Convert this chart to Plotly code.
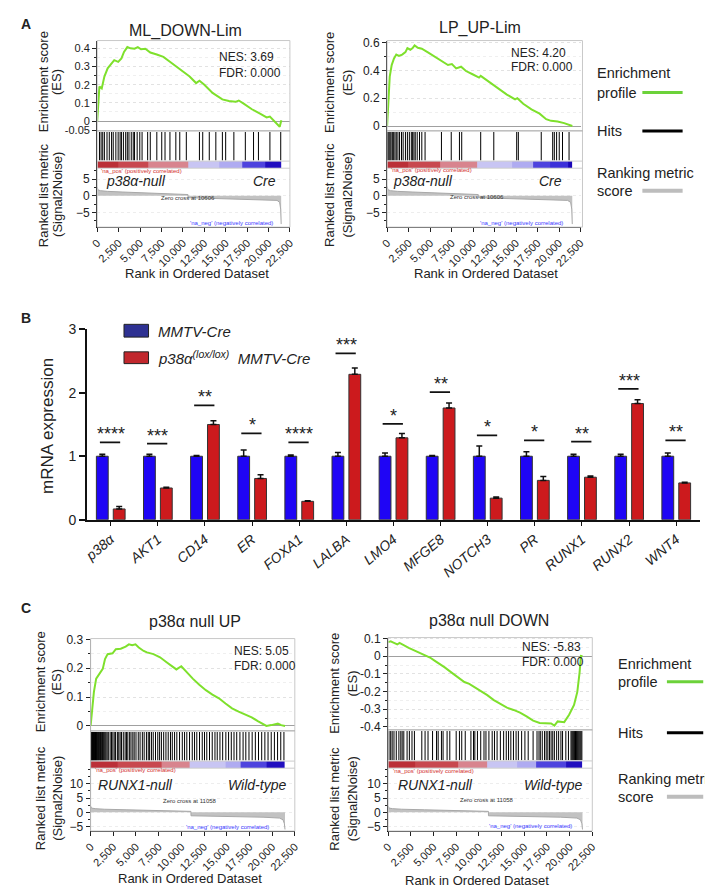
import plotly.graph_objects as go

W, H = 713, 887
FONT = "Liberation Sans, Arial, sans-serif"


def fx(px):
    return px / W


def fy(py):
    return 1 - py / H


# ------------------------------------------------------------------ DATA
rank_ticks = [0, 2500, 5000, 7500, 10000, 12500, 15000, 17500, 20000, 22500]
rank_ticktext = ["0", "2,500", "5,000", "7,500", "10,000", "12,500", "15,000", "17,500", "20,000", "22,500"]

# Panel A left : ML_DOWN-Lim
al_es_rank = [0, 260, 530, 840, 1220, 1600, 1990, 2450, 2830, 3130, 3520, 3900, 4360, 4740, 5120, 5620, 6200,
              6960, 7730, 8490, 9260, 10020, 10790, 11550, 11940, 12510, 13470, 14610, 15380, 16140, 16530,
              17100, 18060, 19010, 19780, 20160, 20740, 21310, 21500]
al_es = [0, 0.19, 0.18, 0.245, 0.29, 0.31, 0.335, 0.326, 0.345, 0.38, 0.407, 0.40, 0.398, 0.407, 0.395, 0.398,
         0.377, 0.366, 0.353, 0.326, 0.299, 0.272, 0.245, 0.209, 0.222, 0.20, 0.155, 0.119, 0.11, 0.106, 0.113,
         0.096, 0.065, 0.041, 0.02, 0.025, -0.002, -0.031, 0.005]
al_hits = [265, 456, 647, 839, 1145, 1413, 1681, 1872, 2178, 2446, 2676, 2829, 3059, 3326, 3518, 3709, 3977,
           4207, 4360, 4666, 4972, 5240, 5891, 6197, 6962, 7536, 7919, 8493, 9182, 9641, 10406, 11937, 12320,
           13085, 13851, 14616, 14999, 15956, 17295, 18252, 18826, 20165, 21428]
al_bar_edges = [0, 2500, 6000, 10600, 14200, 16900, 19600, 21430]
al_bar_levels = [1.0, 0.85, 0.5, -0.2, -0.3, -0.65, -0.95]
al_rk_x = [0, 100, 400, 1200, 3000, 5000, 7000, 9000, 10600, 10610, 12000, 14000, 16000, 18000, 20000, 21000,
           21300, 21420, 21480]
al_rk_v = [2.6, 1.7, 1.5, 1.3, 1.1, 0.9, 0.7, 0.5, 0.35, -0.6, -0.7, -0.8, -0.9, -1.0, -1.2, -1.4, -2.0, -4.0,
           -8.5]

# Panel A right : LP_UP-Lim
ar_es_rank = [0, 76, 152, 305, 533, 800, 1066, 1371, 1752, 2132, 2361, 2703, 2970, 3198, 3579, 4036, 4797, 5559,
              6320, 7081, 7538, 8033, 8604, 9175, 9937, 10698, 10888, 11650, 12411, 13173, 13934, 14886, 15152,
              15838, 16790, 17741, 18502, 19073, 19835, 20596, 21167, 21548]
ar_es = [0, 0.108, 0.249, 0.355, 0.438, 0.485, 0.513, 0.503, 0.513, 0.531, 0.56, 0.548, 0.56, 0.579, 0.562,
         0.555, 0.527, 0.496, 0.466, 0.438, 0.445, 0.414, 0.426, 0.395, 0.372, 0.348, 0.36, 0.325, 0.296, 0.261,
         0.226, 0.191, 0.20, 0.16, 0.12, 0.089, 0.049, 0.037, 0.033, 0.021, 0.007, 0.0]
ar_hits = [30, 38, 114, 229, 343, 457, 610, 762, 914, 1066, 1256, 1447, 1675, 1866, 2132, 2361, 2589, 2818, 2970,
           3122, 3274, 3503, 3769, 4036, 4417, 6320, 7462, 8414, 8680, 10888, 12411, 15076, 15266, 17931, 19264,
           19454, 19720, 20025, 20405, 21167]
ar_bar_edges = [0, 2500, 6130, 10500, 14500, 17000, 19000, 21100, 21550]
ar_bar_levels = [1.0, 0.85, 0.5, -0.2, -0.3, -0.65, -0.75, -1.0]
ar_rk_x = [0, 100, 400, 1200, 3000, 5000, 7000, 9000, 10600, 10610, 12000, 14000, 16000, 18000, 20000, 21000,
           21350, 21480, 21540]
ar_rk_v = [2.8, 1.8, 1.5, 1.3, 1.1, 0.9, 0.7, 0.5, 0.35, -0.6, -0.7, -0.8, -0.9, -1.0, -1.2, -1.4, -2.0, -4.0,
           -8.5]

# Panel B : qPCR
genes = ["p38α", "AKT1", "CD14", "ER", "FOXA1", "LALBA", "LMO4", "MFGE8", "NOTCH3", "PR", "RUNX1", "RUNX2", "WNT4"]
cre_mean = [1.0, 1.0, 1.0, 1.0, 1.0, 1.0, 1.0, 1.0, 1.0, 1.0, 1.0, 1.0, 1.0]
cre_err = [0.03, 0.03, 0.01, 0.10, 0.02, 0.06, 0.05, 0.01, 0.16, 0.07, 0.03, 0.03, 0.05]
ko_mean = [0.17, 0.50, 1.50, 0.65, 0.29, 2.29, 1.29, 1.76, 0.34, 0.62, 0.67, 1.83, 0.58]
ko_err = [0.04, 0.01, 0.06, 0.06, 0.01, 0.10, 0.07, 0.08, 0.02, 0.06, 0.02, 0.06, 0.01]
sig_label = ["****", "***", "**", "*", "****", "***", "*", "**", "*", "*", "**", "***", "**"]
sig_line_y = [1.22, 1.20, 1.80, 1.36, 1.22, 2.62, 1.51, 2.01, 1.33, 1.25, 1.23, 2.06, 1.25]
b_ticks = [0, 1, 2, 3]

# Panel C left : p38α null UP
cl_es_rank = [0, 145, 362, 614, 975, 1336, 1587, 1873, 2418, 2778, 3319, 3860, 4221, 4582, 4943, 5303, 5844, 6205,
              6926, 7648, 8369, 9091, 9451, 9992, 10533, 11255, 11976, 12698, 13419, 14140, 14862, 15583, 16305,
              17026, 17747, 18469, 19371, 19912, 20633, 20994, 21427]
cl_es = [0, 0.05, 0.118, 0.164, 0.181, 0.198, 0.232, 0.249, 0.252, 0.266, 0.268, 0.275, 0.283, 0.28, 0.283,
         0.272, 0.26, 0.255, 0.249, 0.238, 0.221, 0.204, 0.196, 0.207, 0.187, 0.164, 0.143, 0.124, 0.109, 0.096,
         0.078, 0.061, 0.05, 0.039, 0.03, 0.016, 0.0, 0.003, 0.008, 0.003, 0.0]
cl_hits = [20, 60, 110, 150, 200, 260, 310, 370, 420, 480, 540, 600, 660, 720, 790, 850, 920, 1000, 1080, 1150,
           1230, 1320, 1400, 1500, 1600, 1700, 1820, 1950, 2150, 2300, 2450, 2600, 2750, 2950, 3100, 3250, 3400,
           3600, 3800, 3950, 4100, 4300, 4450, 4650, 4800, 5000, 5250, 5450, 5700, 5900, 6150, 6350, 6500, 6700,
           6900, 7150, 7400, 7600, 7800, 8050, 8300, 8550, 8800, 9000, 9250, 9500, 9800, 10100, 10350, 10600,
           10900, 11200, 11450, 11700, 12000, 12300, 12550, 12800, 13100, 13400, 13700, 13950, 14250, 14550,
           14900, 15200, 15500, 15800, 16100, 16450, 16800, 17100, 17450, 17800, 18150, 18500, 18850, 19200,
           19550, 19900, 20250, 20600, 20950, 21300]
cl_bar_edges = [0, 3000, 7780, 10930, 14900, 16500, 19340, 21400]
cl_bar_levels = [1.0, 0.85, 0.5, -0.2, -0.3, -0.65, -0.95]
cl_rk_x = [0, 100, 500, 1500, 4000, 7000, 9500, 11050, 11060, 13000, 16000, 19000, 20800, 21200, 21350, 21420]
cl_rk_v = [2.2, 1.5, 1.3, 1.1, 0.9, 0.7, 0.5, 0.35, -1.2, -1.3, -1.5, -1.7, -2.0, -2.6, -4.0, -6.0]

# Panel C right : p38α null DOWN
cr_es_rank = [0, 289, 650, 1010, 1263, 1732, 2273, 2813, 3536, 4077, 4618, 5159, 5700, 6241, 6962, 7684, 8405,
              8946, 9487, 10208, 10930, 11651, 12373, 13094, 13815, 14537, 15258, 15980, 16701, 17422, 17963,
              18324, 18685, 19406, 19947, 20488, 20849, 21101, 21246, 21420]
cr_es = [0.08, 0.085, 0.076, 0.067, 0.076, 0.061, 0.048, 0.035, 0.02, 0.007, -0.007, -0.026, -0.044, -0.063,
         -0.091, -0.118, -0.146, -0.156, -0.174, -0.193, -0.22, -0.248, -0.27, -0.291, -0.304, -0.319, -0.341,
         -0.365, -0.378, -0.378, -0.381, -0.393, -0.369, -0.373, -0.331, -0.276, -0.202, -0.091, 0.002, 0.0]
cr_hits = [100, 288, 450, 649, 902, 1190, 1400, 1550, 1731, 2092, 2344, 2633, 2900, 3715, 4075, 4400, 4900,
           5338, 5518, 5879, 6059, 6500, 6800, 7502, 7862, 8115, 8500, 9125, 9413, 9558, 9846, 10207, 10567,
           10784, 11108, 11469, 11721, 12010, 12371, 12731, 13020, 13272, 13525, 13813, 14102, 14354, 14715,
           15076, 15436, 15977, 16410, 16627, 16771, 16987, 17240, 17420, 17600, 17781, 17961, 18141, 18321,
           18574, 18790, 19043, 19223, 19584, 19872, 20150, 20250, 20350, 20450, 20550, 20650, 20750, 20850,
           20950, 21050, 21150, 21250, 21350]
cr_bar_edges = [0, 3000, 7680, 10930, 14170, 16340, 19580, 21400]
cr_bar_levels = [1.0, 0.85, 0.5, -0.2, -0.3, -0.65, -0.95]
cr_rk_x = [0, 100, 500, 1500, 4000, 7000, 9500, 11050, 11060, 13000, 16000, 19000, 20800, 21200, 21350, 21420]
cr_rk_v = [2.2, 1.5, 1.3, 1.1, 0.9, 0.7, 0.5, 0.35, -1.2, -1.3, -1.5, -1.7, -2.0, -2.6, -4.0, -6.0]

# ------------------------------------------------------------------ STYLE
GREEN = "#7ee02c"
BAR_SCALE = [[0.0, "#1a06b8"], [0.12, "#3a2ed8"], [0.25, "#6a60e6"], [0.38, "#c4c2f4"], [0.5, "#ddd4f0"],
             [0.62, "#e6a8d2"], [0.75, "#d8848e"], [0.9, "#cc5056"], [1.0, "#bb3038"]]

traces, shapes, annotations = [], [], []
layout = dict(width=W, height=H, margin=dict(l=0, r=0, t=0, b=0), paper_bgcolor="white",
              plot_bgcolor="white", showlegend=False, font=dict(family=FONT, color="#222222"))


def names(n):
    s = "" if n == 1 else str(n)
    return "xaxis" + s, "yaxis" + s, "x" + s, "y" + s


def text(x, y, s, size=12, color="#222222", xanchor="left", angle=0, yanchor="middle"):
    annotations.append(dict(x=fx(x), y=fy(y), xref="paper", yref="paper", text=s, showarrow=False,
                            xanchor=xanchor, yanchor=yanchor, textangle=angle,
                            font=dict(size=size, color=color, family=FONT)))


def hline(x0, x1, y, color, width):
    shapes.append(dict(type="line", xref="paper", yref="paper", x0=fx(x0), x1=fx(x1), y0=fy(y), y1=fy(y),
                       line=dict(color=color, width=width)))


def gsea(base, g, es_x, es_y, es_ticks, es_ticktext, hits, bar_edges, bar_levels, rk_x, rk_v, rk_ticks):
    dx = [fx(g["x0"]), fx(g["x1"])]
    # ---- ES
    xa, ya, xr, yr = names(base)
    layout[xa] = dict(domain=dx, range=[0, 22500], anchor=yr, showticklabels=False, showgrid=False,
                      zeroline=False, showline=False, ticks="")
    layout[ya] = dict(domain=[fy(g["es_b"]), fy(g["t"])], range=g["es_range"], anchor=xr,
                      tickvals=es_ticks, ticktext=es_ticktext, ticks="outside", ticklen=4, tickcolor="#222",
                      showline=True, linecolor="#111", linewidth=1.2, showgrid=True, gridcolor="#e2e2e2",
                      griddash="dot", zeroline=True, zerolinecolor="#a0a0a0", zerolinewidth=1,
                      tickfont=dict(size=g.get("es_font", 12)),
                      minor=dict(dtick=(es_ticks[-1] - es_ticks[-2]) / 2, ticks="outside", ticklen=2,
                                 tickcolor="#222", showgrid=True, gridcolor="#efefef", griddash="dot"))
    traces.append(go.Scatter(x=es_x, y=es_y, mode="lines", line=dict(color=GREEN, width=2),
                             xaxis=xr, yaxis=yr, hoverinfo="skip"))
    # ---- hits + colour bar
    xa, ya, xr, yr = names(base + 1)
    layout[xa] = dict(domain=dx, range=[0, 22500], anchor=yr, showticklabels=False, showgrid=False,
                      zeroline=False, showline=False, ticks="")
    layout[ya] = dict(domain=[fy(g["hits_b"]), fy(g["es_b"])], range=[0, 1], anchor=xr, showticklabels=False,
                      ticks="", showgrid=False, zeroline=False, showline=True, linecolor="#111", linewidth=1.2)
    hx, hy = [], []
    for h in hits:
        hx += [h, h, None]
        hy += [0.21, 0.97, None]
    traces.append(go.Scatter(x=hx, y=hy, mode="lines", line=dict(color="#000000", width=1),
                             xaxis=xr, yaxis=yr, hoverinfo="skip"))
    traces.append(go.Heatmap(x=bar_edges, y=[0.015, 0.19], z=[bar_levels], zmin=-1, zmax=1,
                             colorscale=BAR_SCALE, showscale=False, xaxis=xr, yaxis=yr, hoverinfo="skip"))
    # ---- ranked list metric
    xa, ya, xr, yr = names(base + 2)
    layout[xa] = dict(domain=dx, range=[0, 22500], anchor=yr, tickvals=rank_ticks, ticktext=rank_ticktext,
                      tickangle=-45, ticks="outside", ticklen=4, tickcolor="#222", showline=True,
                      linecolor="#111", linewidth=1.2, showgrid=False, zeroline=False,
                      tickfont=dict(size=11))
    layout[ya] = dict(domain=[fy(g["b"]), fy(g["hits_b"])], range=g["rk_range"], anchor=xr,
                      tickvals=rk_ticks, ticks="outside", ticklen=4, tickcolor="#222", showline=True,
                      linecolor="#111", linewidth=1.2, showgrid=True, gridcolor="#ededed", griddash="dot",
                      zeroline=False, tickfont=dict(size=12),
                      minor=dict(dtick=2.5, ticks="outside", ticklen=2, tickcolor="#222"))
    traces.append(go.Scatter(x=rk_x, y=rk_v, mode="lines", fill="tozeroy", fillcolor="#c2c2c2",
                             line=dict(color="#a8a8a8", width=1), xaxis=xr, yaxis=yr, hoverinfo="skip"))
    # ---- frame
    shapes.append(dict(type="rect", xref="paper", yref="paper", x0=fx(g["x0"]), x1=fx(g["xf"]),
                       y0=fy(g["b"]), y1=fy(g["t"]), line=dict(color="#c8c8c8", width=1)))
    hline(g["x0"], g["xf"], g["es_b"], "#9a9a9a", 1)
    hline(g["x0"], g["xf"], g["hits_b"] - 0.19 * (g["hits_b"] - g["es_b"]), "#cccccc", 1)
    hline(g["x0"], g["xf"], g["hits_b"], "#cccccc", 1)
    # ---- texts
    text(g["title"][0], g["title"][1], g["title_text"], size=16, xanchor="center")
    text(g["nes"][0], g["nes"][1], g["nes_text"], size=12)
    text(g["nes"][0], g["fdr_y"], "FDR: 0.000", size=12)
    text(g["ylab_x"][0], g["es_cy"], "Enrichment score", size=13, xanchor="center", angle=-90)
    text(g["ylab_x"][1], g["es_cy"], "(ES)", size=13, xanchor="center", angle=-90)
    text(g["ylab_x"][0], g["rk_cy"], "Ranked list metric", size=13, xanchor="center", angle=-90)
    text(g["ylab_x"][1], g["rk_cy"], "(Signal2Noise)", size=13, xanchor="center", angle=-90)
    text(g["pos"][0], g["pos"][1], "'na_pos' (positively correlated)", size=6, color="#d23030")
    text(g["zero"][0], g["zero"][1], g["zero_text"], size=6, color="#333333", xanchor="center")
    text(g["neg"][0], g["neg"][1], "'na_neg' (negatively correlated)", size=6, color="#3b3bff",
         xanchor="center")
    text(g["ph_l"][0], g["ph_l"][1], "<i>" + g["ph_l_text"] + "</i>", size=14)
    text(g["ph_r"][0], g["ph_r"][1], "<i>" + g["ph_r_text"] + "</i>", size=14, xanchor="right")
    text(g["rank_title"][0], g["rank_title"][1], "Rank in Ordered Dataset", size=13, xanchor="center")


AL = dict(x0=82.7, x1=279, xf=279, t=25, es_b=117, hits_b=155, b=215, es_range=[-0.054, 0.443],
          rk_range=[-9.41, 8.24], title=(173, 15), title_text="ML_DOWN-Lim", nes=(205, 42), fdr_y=58,
          nes_text="NES: 3.69", ylab_x=(28, 42), es_cy=67, rk_cy=182, pos=(85, 157.5), zero=(175, 185),
          zero_text="Zero cross at 10606", neg=(220, 211), ph_l=(90, 168.5), ph_l_text="p38α-null",
          ph_r=(267, 168.5), ph_r_text="Cre", rank_title=(184, 262), es_font=11)
AR = dict(x0=378, x1=575, xf=577, t=25, es_b=117, hits_b=155, b=215, es_range=[-0.035, 0.614],
          rk_range=[-9.41, 8.24], title=(473, 12), title_text="LP_UP-Lim", nes=(502, 38), fdr_y=52,
          nes_text="NES: 4.20", ylab_x=(320, 338), es_cy=68, rk_cy=182, pos=(380, 157), zero=(470, 184),
          zero_text="Zero cross at 10606", neg=(515, 211), ph_l=(382, 168), ph_l_text="p38α-null",
          ph_r=(558, 168), ph_r_text="Cre", rank_title=(479, 262))
CL = dict(x0=76, x1=284, xf=284, t=634, es_b=728, hits_b=766, b=830, es_range=[-0.017, 0.303],
          rk_range=[-6.55, 15.5], title=(182, 617), title_text="p38α null UP", nes=(220, 647), fdr_y=662,
          nes_text="NES: 5.05", ylab_x=(25, 42), es_cy=678, rk_cy=797, pos=(78, 768), zero=(177, 799),
          zero_text="Zero cross at 11058", neg=(215, 826), ph_l=(81, 783.5), ph_l_text="RUNX1-null",
          ph_r=(277, 783.5), ph_r_text="Wild-type", rank_title=(177, 878))
CR = dict(x0=379, x1=587, xf=587, t=633, es_b=727, hits_b=766, b=830, es_range=[-0.417, 0.106],
          rk_range=[-6.55, 15.5], title=(482, 616), title_text="p38α null DOWN", nes=(513, 643), fdr_y=658,
          nes_text="NES: -5.83", ylab_x=(325, 343), es_cy=680, rk_cy=797, pos=(382, 769), zero=(480, 798),
          zero_text="Zero cross at 11058", neg=(524, 825), ph_l=(387, 783), ph_l_text="RUNX1-null",
          ph_r=(579, 783), ph_r_text="Wild-type", rank_title=(470, 880))

gsea(1, AL, al_es_rank, al_es, [-0.05, 0, 0.1, 0.2, 0.3, 0.4], ["-0.05", "0", "0.1", "0.2", "0.3", "0.4"],
     al_hits, al_bar_edges, al_bar_levels, al_rk_x, al_rk_v, [-5, 0, 5])
gsea(4, AR, ar_es_rank, ar_es, [0, 0.2, 0.4, 0.6], ["0", "0.2", "0.4", "0.6"],
     ar_hits, ar_bar_edges, ar_bar_levels, ar_rk_x, ar_rk_v, [-5, 0, 5])
gsea(7, CL, cl_es_rank, cl_es, [0, 0.1, 0.2, 0.3], ["0", "0.1", "0.2", "0.3"],
     cl_hits, cl_bar_edges, cl_bar_levels, cl_rk_x, cl_rk_v, [-5, 0, 5, 10])
gsea(10, CR, cr_es_rank, cr_es, [-0.4, -0.3, -0.2, -0.1, 0, 0.1], ["-0.4", "-0.3", "-0.2", "-0.1", "0", "0.1"],
     cr_hits, cr_bar_edges, cr_bar_levels, cr_rk_x, cr_rk_v, [-5, 0, 5, 10])

# ---- side legends (A and C)
for (lx, ly0, line_x0, line_x1, ys) in [(590, 58, 638, 679, (78, 117, 160, 178)),
                                          (611, 660, 663, 700, (678, 730, 777, 795))]:
    text(lx, ly0, "Enrichment", size=14.5)
    text(lx, ys[0], "profile", size=14.5)
    hline(line_x0, line_x1, ys[0], "#6cd23a", 3)
    text(lx, ys[1], "Hits", size=14.5)
    hline(line_x0, line_x1, ys[1], "#000000", 3)
    text(lx, ys[2], "Ranking metric", size=14.5)
    text(lx, ys[3], "score", size=14.5)
    hline(line_x0, line_x1, ys[3], "#bdbdbd", 4)

# ------------------------------------------------------------------ PANEL B
xa, ya, xr, yr = names(13)
layout[xa] = dict(domain=[fx(72.5), fx(696.5)], range=[-0.5, 12.5], anchor=yr, type="category",
                  tickvals=genes, ticktext=["<i>" + g + "</i>" for g in genes], tickangle=-40,
                  ticks="outside", ticklen=4, tickcolor="#111", showline=True, linecolor="#111", linewidth=2,
                  showgrid=False, zeroline=False, tickfont=dict(size=14))
layout[ya] = dict(domain=[fy(513), fy(319)], range=[0, 3], anchor=xr, tickvals=b_ticks, ticks="outside",
                  ticklen=6, tickcolor="#111", tickwidth=1.5, showline=True, linecolor="#111", linewidth=2,
                  showgrid=False, zeroline=False, tickfont=dict(size=14))
layout["barmode"] = "group"
layout["bargap"] = 0.283
layout["bargroupgap"] = 0.30
traces.append(go.Bar(x=genes, y=cre_mean, marker=dict(color="#1f05f5", line=dict(color="#333", width=1)),
                     error_y=dict(type="data", array=cre_err, arrayminus=[0] * len(genes), symmetric=False,
                                  color="#111", thickness=1.5, width=3),
                     xaxis=xr, yaxis=yr, name="MMTV-Cre"))
traces.append(go.Bar(x=genes, y=ko_mean, marker=dict(color="#cc1a1d", line=dict(color="#333", width=1)),
                     error_y=dict(type="data", array=ko_err, arrayminus=[0] * len(genes), symmetric=False,
                                  color="#111", thickness=1.5, width=3),
                     xaxis=xr, yaxis=yr, name="p38α MMTV-Cre"))
for i, (lab, ly) in enumerate(zip(sig_label, sig_line_y)):
    shapes.append(dict(type="line", xref=xr, yref=yr, x0=i - 0.23, x1=i + 0.2, y0=ly, y1=ly,
                       line=dict(color="#111", width=1.8)))
    annotations.append(dict(x=i, y=ly, xref=xr, yref=yr, text=lab, showarrow=False, yanchor="bottom",
                            yshift=-4, font=dict(size=18, color="#222", family=FONT)))
text(32, 417, "mRNA expression", size=17, xanchor="center", angle=-90)
shapes.append(dict(type="rect", xref="paper", yref="paper", x0=fx(110), x1=fx(135), y0=fy(327), y1=fy(314),
                   fillcolor="#2e3192", line=dict(color="#222", width=1)))
shapes.append(dict(type="rect", xref="paper", yref="paper", x0=fx(110), x1=fx(135), y0=fy(354), y1=fy(342),
                   fillcolor="#c1272d", line=dict(color="#222", width=1)))
text(143, 321, "<i>MMTV-Cre</i>", size=15)
text(143, 348, "<i>p38α<sup>(lox/lox)</sup>  MMTV-Cre</i>", size=15)

# ---- panel letters
text(3, 8, "<b>A</b>", size=14)
text(3, 308, "<b>B</b>", size=14)
text(3, 603, "<b>C</b>", size=14)

layout["shapes"] = shapes
layout["annotations"] = annotations
fig = go.Figure(data=traces, layout=layout)
fig.write_html("out.html")
